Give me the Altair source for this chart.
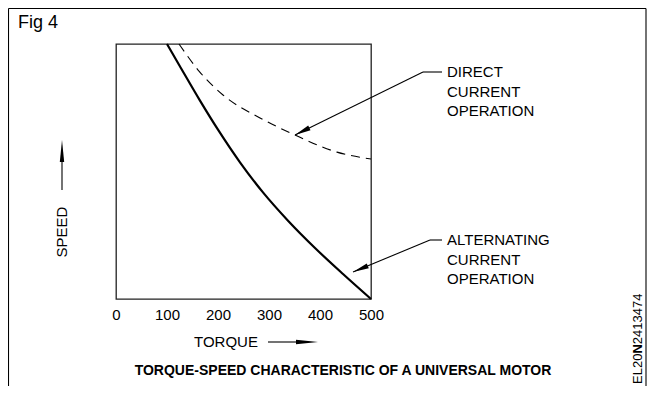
import math
import altair as alt
import pandas as pd

# ---- data ----
ac_torque = [100, 127.5, 164.7, 200, 243.1, 288.2, 337.3, 390.2, 445.1, 500]
ac_speed = [100, 90.5, 77.8, 66.4, 53.6, 41.8, 30.7, 20.0, 9.8, 0]
dc_torque = [123.5, 162.7, 209.8, 282.4, 351, 433.3, 500]
dc_speed = [100, 89.4, 80, 71, 64.3, 57.6, 54.9]
torque_ticks = [0, 100, 200, 300, 400, 500]

dc_label = ["DIRECT", "CURRENT", "OPERATION"]
ac_label = ["ALTERNATING", "CURRENT", "OPERATION"]
fig_label = "Fig 4"
title_text = "TORQUE-SPEED CHARACTERISTIC OF A UNIVERSAL MOTOR"
code_parts = ["EL20", "N", "2413474"]

FONT = "Liberation Sans"
W = H = 255
OX, OY = 116, 44          # page position of the plot origin


def X(p):
    return p - OX


def Y(p):
    return p - OY


one = alt.Data(values=[{}])

x_scale = alt.Scale(domain=[0, 500], nice=False, zero=False)
y_scale = alt.Scale(domain=[0, 100], nice=False, zero=False)

ac = pd.DataFrame({"torque": ac_torque, "speed": ac_speed})
dc = pd.DataFrame({"torque": dc_torque, "speed": dc_speed})

x_enc = alt.X("torque:Q", scale=x_scale,
              axis=alt.Axis(values=torque_ticks, title=None, grid=False, domain=False,
                            ticks=False, labelFontSize=15, labelFont=FONT,
                            labelColor="black", labelPadding=8, labelFlush=False))
y_enc = alt.Y("speed:Q", scale=y_scale, axis=None)

ac_line = alt.Chart(ac).mark_line(color="black", strokeWidth=2.2,
                                  interpolate="monotone").encode(x=x_enc, y=y_enc, order="torque:Q")
dc_line = alt.Chart(dc).mark_line(color="black", strokeWidth=1.1, strokeDash=[9, 6],
                                  interpolate="monotone").encode(x=x_enc, y=y_enc, order="torque:Q")


def rule(x1, y1, x2, y2, w=1.1):
    return alt.Chart(one).mark_rule(color="black", strokeWidth=w, clip=False).encode(
        x=alt.value(X(x1)), y=alt.value(Y(y1)), x2=alt.value(X(x2)), y2=alt.value(Y(y2)))


def head(tipx, tipy, fromx, fromy, length=16, half=0.35):
    dx, dy = tipx - fromx, tipy - fromy
    d = math.hypot(dx, dy)
    ux, uy = dx / d, dy / d
    cx, cy = tipx - ux * length / 2, tipy - uy * length / 2
    ang = math.degrees(math.atan2(dy, dx)) % 360
    shape = f"M 1 0 L -1 {-half} L -1 {half} Z"
    return alt.Chart(one).mark_point(shape=shape, filled=True, color="black", opacity=1,
                                     size=length ** 2, angle=ang, strokeWidth=0,
                                     clip=False).encode(x=alt.value(X(cx)), y=alt.value(Y(cy)))


def text(t, x, y, size=15, align="left", baseline="middle", weight="normal", angle=0, lh=19.5):
    kw = dict(font=FONT, fontSize=size, align=align, baseline=baseline, fontWeight=weight,
              color="black", lineHeight=lh)
    if angle:
        kw["angle"] = angle
    return alt.Chart(one).mark_text(**kw).encode(
        x=alt.value(X(x)), y=alt.value(Y(y)), text=alt.value(t))


layers = [
    # outer frame
    rule(8.5, 8.5, 8.5, 386), rule(8.5, 8.5, 646, 8.5), rule(646, 8.5, 646, 386),
    dc_line, ac_line,
    # DC leader
    rule(442, 72, 423, 72), rule(423, 72, 295, 135),
    head(295, 135, 423, 72, length=16, half=0.33),
    # AC leader
    rule(442, 240, 430, 240), rule(430, 240, 353, 272),
    head(353, 272, 430, 240, length=16, half=0.33),
    # axis arrows
    rule(268, 342, 300, 342), head(318, 342, 268, 342, length=22, half=0.2),
    rule(62, 190, 62, 160), head(62, 140, 62, 190, length=22, half=0.2),
    # texts
    text(fig_label, 18, 23, size=18),
    text("TORQUE", 226, 342, align="center"),
    text("SPEED", 62, 232, align="center", angle=270),
    text(title_text, 343, 371, size=14, align="center", weight="bold"),
    text(dc_label, 447, 72),
    text(ac_label, 447, 240),
    text(code_parts[0], 638, 384, size=13, angle=270),
    text(code_parts[1], 638, 353.6, size=13, angle=270, weight="bold"),
    text(code_parts[2], 638, 344.2, size=13, angle=270),
]

chart = alt.layer(*layers).properties(
    width=W, height=H,
    padding={"left": 108, "top": 36, "right": 639 - 108 - W, "bottom": 378 - 36 - H},
    autosize=alt.AutoSizeParams(type="none"),
    background="white",
).configure_view(stroke="#222", strokeWidth=1.3)

chart.save("out.html", embed_options={"renderer": "svg", "actions": False})
